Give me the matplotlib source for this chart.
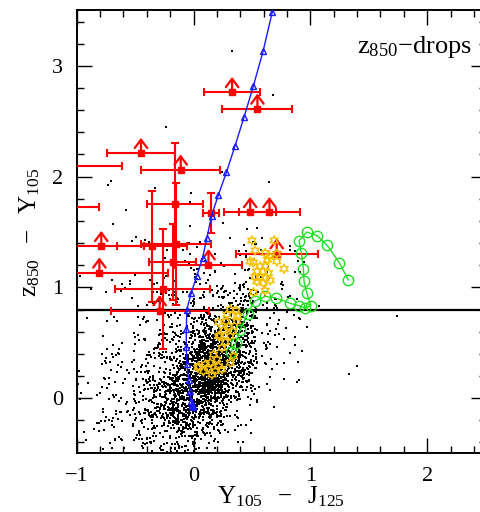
import numpy as np
import matplotlib
matplotlib.use('Agg')
import matplotlib.pyplot as plt
from matplotlib.ticker import MultipleLocator

plt.rcParams['font.family'] = ['Liberation Serif', 'DejaVu Serif']
plt.rcParams['mathtext.fontset'] = 'custom'
plt.rcParams['mathtext.rm'] = 'Liberation Serif'
plt.rcParams['mathtext.it'] = 'Liberation Serif:italic'

# field objects: counts per 0.25 x 0.25 colour cell
cell_x = [-1.0, -0.75, -0.5, -0.25, 0.0, 0.25, 0.5, 0.75]
cell_y = [-0.5, -0.25, 0.0, 0.25, 0.5, 0.75, 1.0, 1.25]
cell_counts = [
    [5, 15, 40, 65, 30, 4, 0, 0],
    [6, 25, 60, 180, 160, 15, 2, 0],
    [6, 20, 50, 200, 450, 80, 8, 2],
    [5, 12, 30, 80, 400, 200, 15, 4],
    [3, 8, 18, 35, 120, 160, 20, 5],
    [2, 5, 12, 20, 40, 55, 18, 5],
    [1, 3, 6, 8, 12, 14, 8, 4],
    [0, 1, 3, 5, 6, 8, 6, 3],
]
# isolated field objects
lone_x = [0.328, -0.236, 0.684, 0.647, -0.022, 1.745, 1.40, 1.333, 0.87, 0.892,
          -0.71, -0.73, -0.575, -0.69, -0.327, -0.02, -0.03, -0.03, 0.24, 0.25, 1.077]
lone_y = [3.135, 2.45, 2.736, 1.955, 1.85, 0.739, 0.288, 0.222, 0.484, 0.324,
          1.96, 1.92, 1.70, 1.57, 1.90, 1.85, 1.77, 1.556, 2.045, 1.585, 0.829]

# z850-dropout candidates
drop_x = [0.33, 0.547, -0.45, -0.11, -1.1, -1.2, -0.162, 0.149, 0.485, 0.65,
          -0.79, -0.356, -0.147, 0.712, -0.18, 0.128, -0.806, -0.265, -0.29]
drop_y = [2.76, 2.61, 2.21, 2.06, 2.096, 1.724, 1.754, 1.673, 1.676, 1.676,
          1.37, 1.37, 1.394, 1.304, 1.229, 1.205, 1.13, 0.985, 0.79]
drop_xerr = [0.24, 0.30, 0.295, 0.34, 0.49, 0.39, 0.24, 0.067, 0.22, 0.265,
             0.37, 0.30, 0.30, 0.35, 0.20, 0.29, 0.59, 0.41, 0.42]
drop_yerr = [0, 0, 0, 0, 0, 0, 0.55, 0.18, 0, 0,
             0, 0.50, 0.55, 0, 0.34, 0, 0, 0.54, 0]
drop_limit = [1, 1, 1, 1, 0, 0, 0, 0, 1, 1,
              1, 0, 0, 1, 0, 1, 1, 0, 1]

# star-forming galaxy track
blue_x = [0.675, 0.596, 0.513, 0.433, 0.356, 0.282, 0.211, 0.154, 0.114, 0.077, 0.029,
          -0.02, -0.057, -0.062, -0.062, -0.057, -0.043, -0.031, -0.02, -0.015, -0.012,
          -0.008, -0.005]
blue_y = [3.49, 3.135, 2.82, 2.54, 2.28, 2.04, 1.83, 1.646, 1.445, 1.265, 1.105,
          0.95, 0.80, 0.625, 0.46, 0.31, 0.168, 0.063, -0.027, -0.05, -0.065,
          -0.075, -0.08]

# elliptical galaxy track
green_x = [0.322, 0.362, 0.399, 0.462, 0.522, 0.613, 0.704, 0.826, 0.90, 0.955, 1.003,
           0.969, 0.946, 0.94, 0.923, 0.903, 0.969, 1.06, 1.145, 1.248, 1.325]
green_y = [0.418, 0.499, 0.619, 0.763, 0.874, 0.919, 0.904, 0.856, 0.835, 0.814, 0.835,
           0.95, 1.054, 1.168, 1.31, 1.421, 1.499, 1.466, 1.378, 1.222, 1.067]

# cool stars
star_x = [0.499, 0.69, 0.527, 0.613, 0.65, 0.713, 0.633, 0.713, 0.485, 0.513, 0.57, 0.613,
          0.775, 0.541, 0.598, 0.641, 0.527, 0.57, 0.613, 0.656, 0.541, 0.598, 0.513, 0.613,
          0.314, 0.365, 0.285, 0.376, 0.279, 0.371, 0.214, 0.299, 0.256, 0.337, 0.214, 0.314,
          0.271, 0.243, 0.342, 0.171, 0.2, 0.143, 0.1, 0.043, 0.128, 0.214, 0.314, 0.185,
          0.243, 0.085, 0.157, 0.037, 0.228]
star_y = [1.423, 1.423, 1.333, 1.31, 1.28, 1.304, 1.25, 1.234, 1.234, 1.225, 1.19, 1.19,
          1.168, 1.144, 1.144, 1.13, 1.094, 1.085, 1.085, 1.063, 1.054, 1.04, 0.955, 0.97,
          0.80, 0.79, 0.754, 0.739, 0.694, 0.694, 0.685, 0.643, 0.613, 0.604, 0.559, 0.559,
          0.505, 0.454, 0.378, 0.394, 0.349, 0.319, 0.304, 0.288, 0.274, 0.288, 0.319, 0.243,
          0.259, 0.243, 0.213, 0.274, 0.565]

cut_y = 0.8

fig = plt.figure(figsize=(4.81, 5.12), dpi=100)
ax = fig.add_axes([0.1595, 0.1143, 0.850, 0.8652])

# spread each cell's count over its neighbourhood (position jitter only)
rng = np.random.default_rng(7)
fx, fy = [], []
for j, cy in enumerate(cell_y):
    for i, cx in enumerate(cell_x):
        n = cell_counts[j][i]
        c0, c1 = cx + 0.125, cy + 0.125
        fx.extend(rng.triangular(c0 - 0.2, c0, c0 + 0.2, n))
        fy.extend(rng.triangular(c1 - 0.2, c1, c1 + 0.2, n))
ax.scatter(fx, fy, s=2.2, marker='s', c='k', lw=0, zorder=1)
ax.scatter(lone_x, lone_y, s=2.2, marker='s', c='k', lw=0, zorder=1)

ax.axhline(cut_y, color='k', lw=1.6, zorder=2)

for k in range(len(drop_x)):
    ax.errorbar(drop_x[k], drop_y[k], xerr=drop_xerr[k],
                yerr=drop_yerr[k] if drop_yerr[k] > 0 else None,
                fmt='s', color='red', ms=5, capsize=3, elinewidth=1.5,
                capthick=1.5, zorder=3)
    if drop_limit[k]:
        ax.annotate('', xy=(drop_x[k], drop_y[k] + 0.14), xytext=(drop_x[k], drop_y[k]),
                    arrowprops=dict(arrowstyle='->,head_length=0.4,head_width=0.3',
                                    color='red', lw=1.6, mutation_scale=15,
                                    shrinkA=0, shrinkB=0), zorder=3)

ax.plot(green_x, green_y, '-o', color='#22dd22', mfc='none', mec='#22dd22',
        ms=7.5, lw=1, mew=1, zorder=4)
ax.scatter(star_x, star_y, marker=(6, 1, 0), s=45, facecolors='none',
           edgecolors='#f5c000', lw=1, zorder=4)
ax.plot(blue_x, blue_y, '-^', color='#1a1aff', mfc='none', mec='#1a1aff',
        ms=5, lw=1, mew=1, zorder=5)

ax.text(1.40, 3.114, r'$\mathrm{z_{850}{-}drops}$', fontsize=19, zorder=6)

ax.set_xlim(-1, 2.5)
ax.set_ylim(-0.5, 3.5)
ax.xaxis.set_major_locator(MultipleLocator(1))
ax.xaxis.set_minor_locator(MultipleLocator(0.2))
ax.yaxis.set_major_locator(MultipleLocator(1))
ax.yaxis.set_minor_locator(MultipleLocator(0.2))
ax.tick_params(which='both', direction='in', top=True, right=True, width=1, labelsize=16)
ax.tick_params(which='major', length=11, pad=10)
ax.tick_params(which='minor', length=5)
for s in ax.spines.values():
    s.set_linewidth(1.4)

ax.set_xlabel(r'$\mathrm{Y_{105}\ \ -\ \ J_{125}}$', fontsize=18)
ax.set_ylabel(r'$\mathrm{z_{850}\ \ -\ \ Y_{105}}$', fontsize=18)
ax.xaxis.set_label_coords(0.5, -0.07)
ax.yaxis.set_label_coords(-0.085, 0.5)

fig.savefig('out.png', dpi=100)
